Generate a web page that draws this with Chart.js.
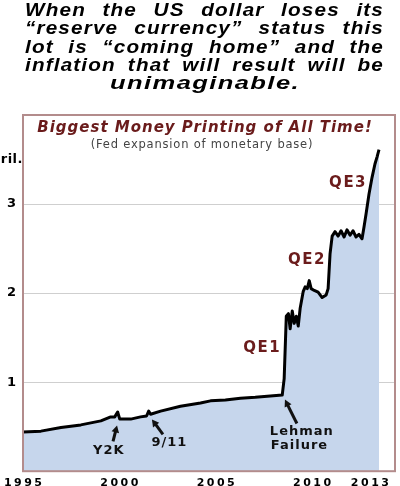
<!DOCTYPE html>
<html>
<head>
<meta charset="utf-8">
<script src="https://cdn.jsdelivr.net/npm/chart.js@4/dist/chart.umd.min.js"></script>
<style>
    html, body { margin: 0; padding: 0; background: #fff; }
    canvas { display: block; }
</style>
</head>
<body>
<canvas id="chart" width="400" height="486"></canvas>
<script>
/* Fed monetary base, trillions of dollars */
const years = [
    1995.0, 1995.93, 1996.97, 1998.0, 1999.04, 1999.55, 1999.76, 1999.91, 2000.02, 2000.59,
    2001.1, 2001.41, 2001.52, 2001.62, 2002.14, 2003.17, 2004.21, 2004.73, 2005.5, 2006.28,
    2007.05, 2007.83, 2008.45, 2008.55, 2008.66, 2008.77, 2008.86, 2008.97, 2009.07, 2009.18,
    2009.28, 2009.38, 2009.54, 2009.64, 2009.75, 2009.85, 2009.95, 2010.11, 2010.31, 2010.52,
    2010.73, 2010.83, 2010.93, 2011.04, 2011.19, 2011.35, 2011.5, 2011.66, 2011.81, 2011.97,
    2012.12, 2012.28, 2012.43, 2012.59, 2012.69, 2012.8, 2012.95, 2013.11, 2013.26, 2013.37,
    2013.47
];
const baseTril = [
    0.44, 0.45, 0.49, 0.52, 0.565, 0.61, 0.61, 0.665, 0.585, 0.585,
    0.61, 0.62, 0.675, 0.64, 0.675, 0.73, 0.765, 0.79, 0.80, 0.82,
    0.83, 0.845, 0.855, 1.04, 1.74, 1.77, 1.60, 1.80, 1.66, 1.74,
    1.63, 1.83, 2.02, 2.07, 2.05, 2.14, 2.05, 2.03, 2.01, 1.95,
    1.98, 2.05, 2.44, 2.64, 2.69, 2.64, 2.70, 2.63, 2.71, 2.65,
    2.70, 2.63, 2.66, 2.61, 2.74, 2.89, 3.11, 3.30, 3.45, 3.53,
    3.61
];
const xTickYears = [1995, 2000, 2005, 2010, 2013];
const yTickValues = [1, 2, 3];

const captionLines = [
    "When the US dollar loses its",
    "\u201creserve currency\u201d status this",
    "lot is \u201ccoming home\u201d and the",
    "inflation that will result will be",
    "unimaginable."
];

// label text, anchored in data units (year, trillions)
const qeNotes = [
    { text: "QE1", x: 2007.37, y: 1.38 },
    { text: "QE2", x: 2009.70, y: 2.37 },
    { text: "QE3", x: 2011.83, y: 3.24 }
];
const eventNotes = [
    { text: "Y2K", x: 1999.43, y: 0.229 },
    { text: "9/11", x: 2002.57, y: 0.318 },
    { text: "Lehman", x: 2009.44, y: 0.447 },
    { text: "Failure", x: 2009.32, y: 0.29 }
];
const eventArrows = [
    { from: [1999.67, 0.335], to: [1999.88, 0.514] },
    { from: [2002.26, 0.413], to: [2001.69, 0.581] },
    { from: [2009.21, 0.536], to: [2008.59, 0.804] }
];

// draws one caption line; justified lines spread the words, the last one is stretched to fit
function drawLine(ctx, text, left, right, baseline, justify, stretch) {
    const words = text.split(" ");
    const widths = words.map(function(w) { return ctx.measureText(w).width; });
    const sum = widths.reduce(function(a, b) { return a + b; }, 0);
    let gap, x;
    if (justify) {
        gap = ((right - left) / stretch - sum) / (words.length - 1);
        x = left / stretch;
    } else {
        gap = ctx.measureText(" ").width;
        const total = sum + gap * (words.length - 1);
        stretch = (right - left) / total;
        x = left / stretch;
    }
    ctx.save();
    ctx.scale(stretch, 1);
    words.forEach(function(w, i) {
        ctx.fillText(w, x, baseline);
        x += widths[i] + gap;
    });
    ctx.restore();
}

function drawArrow(ctx, x1, y1, x2, y2) {
    const ang = Math.atan2(y2 - y1, x2 - x1);
    const head = 8;
    ctx.beginPath();
    ctx.moveTo(x1, y1);
    ctx.lineTo(x2 - Math.cos(ang) * head * 0.7, y2 - Math.sin(ang) * head * 0.7);
    ctx.lineWidth = 3;
    ctx.stroke();
    ctx.beginPath();
    ctx.moveTo(x2, y2);
    ctx.lineTo(x2 - head * Math.cos(ang - 0.5), y2 - head * Math.sin(ang - 0.5));
    ctx.lineTo(x2 - head * Math.cos(ang + 0.5), y2 - head * Math.sin(ang + 0.5));
    ctx.closePath();
    ctx.fill();
}

const decor = {
    id: "decor",
    afterDraw(chart) {
        const ctx = chart.ctx;
        const a = chart.chartArea;
        const xs = chart.scales.x;
        const ys = chart.scales.y;
        ctx.save();

        // frame
        ctx.strokeStyle = "#b38c8c";
        ctx.lineWidth = 2;
        ctx.strokeRect(a.left, a.top, a.right - a.left, a.bottom - a.top);

        // caption above the chart
        ctx.fillStyle = "#000";
        ctx.textAlign = "left";
        ctx.textBaseline = "alphabetic";
        ctx.font = "italic bold 18px 'Liberation Sans', Arial, sans-serif";
        ctx.letterSpacing = "1px";
        const baselines = [16, 34.3, 52.6, 70.9, 89];
        captionLines.forEach(function(line, i) {
            const last = i === captionLines.length - 1;
            drawLine(ctx, line, last ? 110 : 25, last ? 300 : 384, baselines[i], !last, 1.15);
        });

        // titles inside the frame
        ctx.textAlign = "center";
        ctx.fillStyle = "#6a1b1b";
        ctx.font = "italic bold 15px 'DejaVu Sans', sans-serif";
        ctx.letterSpacing = "1px";
        ctx.fillText("Biggest Money Printing of All Time!", a.left + 182, a.top + 17);
        ctx.fillStyle = "#444";
        ctx.font = "11.5px 'DejaVu Sans', sans-serif";
        ctx.letterSpacing = "0.8px";
        ctx.fillText("(Fed expansion of monetary base)", a.left + 179, a.top + 33);

        // unit
        ctx.fillStyle = "#000";
        ctx.textAlign = "right";
        ctx.font = "bold 13px 'DejaVu Sans', sans-serif";
        ctx.letterSpacing = "0.5px";
        ctx.fillText("tril.", a.left, ys.getPixelForValue(3.46));

        // x tick labels
        ctx.textAlign = "center";
        ctx.font = "bold 11px 'DejaVu Sans', sans-serif";
        ctx.letterSpacing = "2.5px";
        xTickYears.forEach(function(yr) {
            ctx.fillText(String(yr), xs.getPixelForValue(yr) + 1.2, 486);
        });

        // QE labels
        ctx.textBaseline = "middle";
        ctx.fillStyle = "#6b1c1c";
        ctx.font = "bold 15px 'DejaVu Sans', sans-serif";
        ctx.letterSpacing = "1.5px";
        qeNotes.forEach(function(n) {
            ctx.fillText(n.text, xs.getPixelForValue(n.x) + 0.7, ys.getPixelForValue(n.y));
        });

        // event labels and arrows
        ctx.fillStyle = "#111";
        ctx.strokeStyle = "#111";
        ctx.font = "bold 13px 'DejaVu Sans', sans-serif";
        ctx.letterSpacing = "1px";
        eventNotes.forEach(function(n) {
            ctx.fillText(n.text, xs.getPixelForValue(n.x) + 0.5, ys.getPixelForValue(n.y));
        });
        ctx.letterSpacing = "0px";
        eventArrows.forEach(function(ar) {
            drawArrow(ctx,
                xs.getPixelForValue(ar.from[0]), ys.getPixelForValue(ar.from[1]),
                xs.getPixelForValue(ar.to[0]), ys.getPixelForValue(ar.to[1]));
        });
        ctx.restore();
    }
};

new Chart(document.getElementById("chart"), {
    type: "line",
    data: {
        datasets: [{
            data: years.map(function(y, i) { return { x: y, y: baseTril[i] }; }),
            borderColor: "#000",
            borderWidth: 3,
            borderJoinStyle: "round",
            backgroundColor: "#c6d6ec",
            fill: "origin",
            pointRadius: 0,
            tension: 0
        }]
    },
    options: {
        responsive: false,
        animation: false,
        devicePixelRatio: 1,
        layout: { padding: { top: 115, right: 5, bottom: 13, left: 0 } },
        plugins: { legend: { display: false }, tooltip: { enabled: false } },
        scales: {
            x: {
                type: "linear",
                display: false,
                min: 1995,
                max: 2014.3
            },
            y: {
                min: 0,
                max: 4,
                afterFit: function(scale) { scale.width = 23; },
                afterBuildTicks: function(scale) {
                    scale.ticks = [0].concat(yTickValues, [4]).map(function(v) { return { value: v }; });
                },
                border: { display: false },
                grid: {
                    drawTicks: false,
                    color: function(c) {
                        return yTickValues.indexOf(c.tick.value) >= 0 ? "#cfcfcf" : "rgba(0,0,0,0)";
                    }
                },
                ticks: {
                    padding: 7,
                    color: "#000",
                    font: { family: "'DejaVu Sans', sans-serif", weight: "bold", size: 13 },
                    callback: function(v) { return yTickValues.indexOf(v) >= 0 ? String(v) : ""; }
                }
            }
        }
    },
    plugins: [decor]
});
</script>
</body>
</html>
